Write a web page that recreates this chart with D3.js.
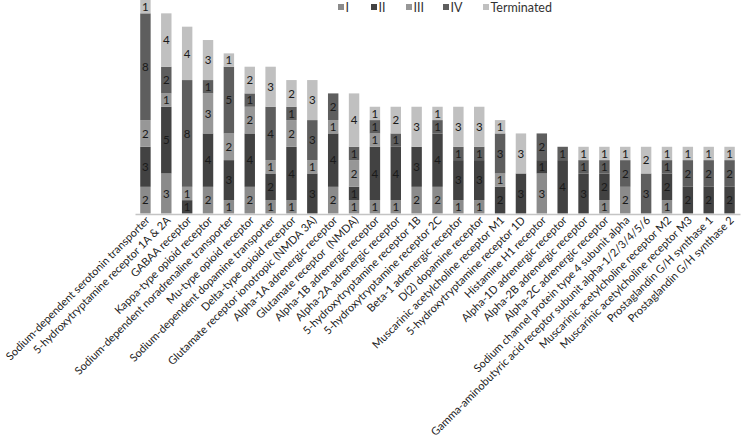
<!DOCTYPE html>
<html><head><meta charset="utf-8">
<script src="https://cdn.jsdelivr.net/npm/d3@7"></script>
<style>
body{margin:0;background:#fff;}
svg{display:block;font-family:Lato,"Open Sans",sans-serif;}
text{white-space:pre;}
</style></head>
<body><svg id="c" width="741" height="446"></svg>
<script>
const categories = ["Sodium-dependent serotonin transporter","5-hydroxytryptamine receptor 1A & 2A","GABAA receptor","Kappa-type opioid receptor","Sodium-dependent noradrenaline transporter","Mu-type opioid receptor","Sodium-dependent dopamine transporter","Delta-type opioid receptor","Glutamate receptor ionotropic (NMDA 3A)","Alpha-1A adrenergic receptor","Glutamate receptor  (NMDA)","Alpha-1B adrenergic receptor","Alpha-2A adrenergic receptor","5-hydroxytryptamine receptor 1B","5-hydroxytryptamine receptor 2C","Beta-1 adrenergic receptor","D(2) dopamine receptor","Muscarinic acetylcholine receptor M1","5-hydroxytryptamine receptor 1D","Histamine H1 receptor","Alpha-1D adrenergic receptor","Alpha-2B adrenergic receptor","Alpha-2C adrenergic receptor","Sodium channel protein type 4 subunit alpha","Gamma-aminobutyric acid receptor subunit alpha-1/2/3/4/5/6","Muscarinic acetylcholine receptor M2","Muscarinic acetylcholine receptor M3","Prostaglandin G/H synthase 1","Prostaglandin G/H synthase 2"];
const seriesNames = ["I","II","III","IV","Terminated"];
const phaseI   = [2,3,0,2,1,2,1,1,0,2,1,1,1,2,2,1,1,0,0,3,0,0,1,2,0,1,0,0,0];
const phaseII  = [3,5,1,4,3,4,2,4,3,4,1,4,4,3,4,3,3,2,3,1,4,3,2,0,0,2,2,2,2];
const phaseIII = [2,1,1,3,2,2,1,2,1,1,2,1,0,0,0,0,0,1,0,0,0,0,0,0,0,0,0,0,0];
const phaseIV  = [8,2,8,1,5,1,4,1,3,2,1,1,1,0,1,1,1,3,0,2,1,1,1,2,3,1,2,2,2];
const terminated = [1,4,4,3,1,2,3,2,3,0,4,1,2,3,1,3,3,1,3,0,0,1,1,1,2,1,1,1,1];
const colors = ["#8b8b8b","#424242","#979797","#5e5e5e","#c0c0c0"];

const seriesVals = [phaseI, phaseII, phaseIII, phaseIV, terminated];
const rows = categories.map((c,i)=>{
  const r = {cat:c};
  seriesNames.forEach((s,k)=> r[s]=seriesVals[k][i]);
  return r;
});
const stacked = d3.stack().keys(seriesNames)(rows);

const svg = d3.select("#c");
const x = d3.scaleBand().domain(categories).range([135,740]).paddingInner(0.5).paddingOuter(0.25);
const y = d3.scaleLinear().domain([0,16]).range([213.5,0]);

const g = svg.append("g");
stacked.forEach((layer,k)=>{
  const lg = g.append("g").attr("fill",colors[k]);
  lg.selectAll("rect").data(layer).join("rect")
    .attr("x",d=>x(d.data.cat))
    .attr("width",x.bandwidth())
    .attr("y",d=>y(d[1]))
    .attr("height",d=>y(d[0])-y(d[1]));
  g.append("g").selectAll("text").data(layer.filter(d=>d[1]-d[0]>0)).join("text")
    .attr("x",d=>x(d.data.cat)+x.bandwidth()/2)
    .attr("y",d=>(y(d[0])+y(d[1]))/2)
    .attr("dy","0.36em")
    .attr("text-anchor","middle")
    .attr("font-size",11.5)
    .attr("fill","#1a1a1a")
    .text(d=>d[1]-d[0]);
});

// axis
const xAxis = d3.axisBottom(x).tickSize(0).tickPadding(0);
const ax = svg.append("g").attr("transform","translate(0,214)").call(xAxis);
ax.select(".domain").attr("stroke","#c4c4c4").attr("stroke-width",1.5);
ax.selectAll(".tick text")
  .attr("font-family","Lato,'Open Sans',sans-serif")
  .attr("font-size",11)
  .attr("fill","#222")
  .attr("text-anchor","end")
  .attr("dy",null)
  .attr("y",0)
  .attr("transform","translate(5,7) rotate(-45)");

// legend
const lx = [338,371,406,443,483];
const leg = svg.append("g");
seriesNames.forEach((s,k)=>{
  leg.append("rect").attr("x",lx[k]).attr("y",4).attr("width",6).attr("height",6).attr("fill",colors[k]);
  leg.append("text").attr("x",lx[k]+7.5).attr("y",7).attr("dy","0.36em")
    .attr("font-size",12.5).attr("fill","#333").text(s);
});
</script></body></html>
